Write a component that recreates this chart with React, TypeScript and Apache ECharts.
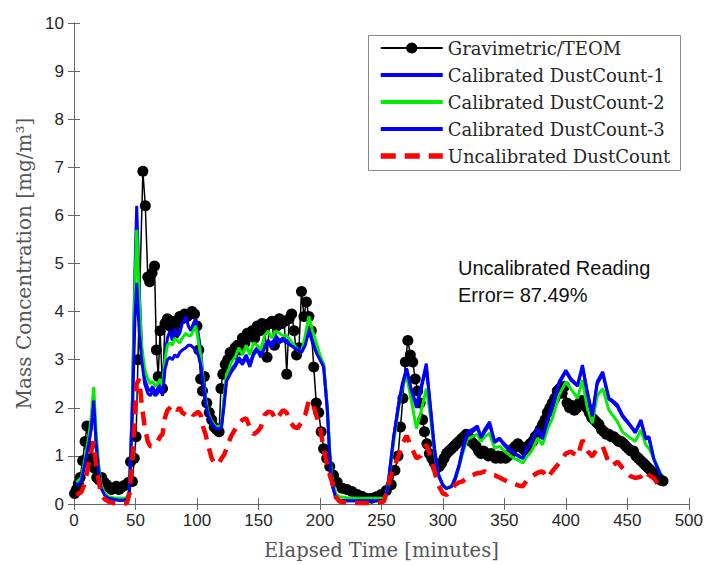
import React, { useEffect, useRef } from "react";
import * as echarts from "echarts";

// Gravimetric/TEOM reference measurements [minute, mg/m3]
const GRAV: [number, number][] = [
  [0.5, 0.22], [2, 0.3], [3.5, 0.42], [5, 0.55], [7, 0.9], [9, 1.3], [10.5, 1.62], [12.5, 1.2], [14.5, 0.95],
  [16.5, 0.75], [18.5, 0.55], [20.5, 0.5], [22.5, 0.55], [24.5, 0.45], [26.5, 0.4], [28.5, 0.35], [30.5, 0.3],
  [32.5, 0.33], [34.5, 0.37], [36.5, 0.3], [38.5, 0.35], [40.5, 0.38], [42.5, 0.4], [44.5, 0.45], [46, 0.88],
  [47.5, 0.47], [49, 0.95], [50.5, 1.4], [52, 3.0], [56, 6.92], [58, 6.2], [60, 4.72], [61.5, 4.62], [63.5, 4.8],
  [65.5, 4.95], [67, 3.2], [68.5, 2.65], [70, 3.6], [72, 2.4], [74, 3.75], [76, 3.85], [78, 3.7], [80, 3.8],
  [82, 3.55], [84, 3.75], [86, 3.9], [88, 3.85], [90, 3.95], [92, 3.9], [94, 3.95], [96, 4.0], [98, 3.95],
  [100, 3.7], [101.5, 3.2], [103, 2.6], [104.5, 2.35], [106, 2.65], [108, 2.1], [110, 1.9], [112, 1.75],
  [114, 1.6], [116, 1.55], [118, 1.5], [119.5, 2.4], [121, 2.7], [123, 2.9], [125, 3.0], [127, 3.15], [129, 3.1],
  [131, 3.25], [133, 3.3], [135, 3.2], [137, 3.45], [139, 3.35], [141, 3.55], [143, 3.5], [145, 3.6], [147, 3.45],
  [149, 3.7], [151, 3.6], [153, 3.75], [155, 3.65], [157, 3.05], [159, 3.75], [161, 3.8], [163, 3.3], [165, 3.7],
  [167, 3.85], [169, 3.75], [171, 3.8], [173, 2.7], [175, 3.85], [177, 3.95], [179, 3.6], [181, 3.1], [183, 3.25],
  [185, 4.42], [187, 3.9], [189, 4.2], [191, 3.9], [193, 3.6], [195, 2.85], [197, 2.1], [199, 1.9], [201, 1.5],
  [203, 1.15], [205.5, 0.95], [208, 0.78], [211, 0.6], [214, 0.45], [218, 0.33], [222, 0.3], [226, 0.26],
  [230, 0.2], [234, 0.16], [238, 0.12], [242, 0.12], [246, 0.15], [250, 0.2], [254, 0.28], [258, 0.4], [261, 0.7],
  [263.5, 1.0], [265.5, 1.6], [267.5, 2.2], [269.5, 2.95], [271.5, 3.4], [273.5, 3.1], [275.5, 2.95], [277.5, 2.6],
  [279.5, 2.35], [281.5, 2.1], [283.5, 1.75], [285, 1.5], [287, 1.25], [289, 1.05], [291, 0.95], [293, 0.85],
  [295, 0.75], [297, 0.78], [299, 0.85], [301, 0.95], [303, 1.05], [305, 1.1], [307, 1.15], [309, 1.2], [311, 1.25],
  [313, 1.3], [315, 1.35], [317, 1.4], [319, 1.45], [321, 1.4], [323, 1.3], [325, 1.25], [327, 1.2], [329, 1.1],
  [331, 1.05], [333, 1.1], [335, 1.05], [337, 1.0], [339, 1.05], [341, 1.0], [343, 0.95], [345, 1.0], [347, 0.95],
  [349, 1.0], [351, 0.95], [353, 1.0], [355, 1.05], [357, 1.15], [359, 1.2], [361, 1.25], [363, 1.2], [365, 1.15],
  [367, 1.1], [369, 1.2], [371, 1.25], [373, 1.3], [375, 1.4], [377, 1.45], [379, 1.55], [381, 1.65], [383, 1.75],
  [385, 1.9], [387, 2.0], [389, 2.1], [391, 2.2], [393, 2.35], [395, 2.4], [397, 2.3], [399, 2.45], [401, 2.1],
  [403, 2.0], [405, 2.05], [407, 1.95], [409, 2.0], [411, 2.1], [413, 2.15], [415, 2.1], [417, 2.0], [419, 1.9],
  [421, 1.8], [423, 1.75], [425, 1.7], [427, 1.65], [429, 1.55], [431, 1.5], [433, 1.45], [435, 1.45], [437, 1.4],
  [439, 1.4], [441, 1.35], [443, 1.3], [445, 1.3], [447, 1.25], [449, 1.2], [451, 1.15], [453, 1.1], [455, 1.1],
  [457, 1.0], [459, 0.95], [461, 0.9], [463, 0.85], [465, 0.8], [467, 0.75], [469, 0.7], [471, 0.65], [473, 0.6],
  [475, 0.55], [477, 0.5], [479, 0.48],
];

// Time grid (minutes) shared by the DustCount traces
const CAL_T = [
  2, 4, 6, 9, 12, 14, 16, 18, 20, 22, 25, 28, 32, 36, 40, 43, 45, 47.5, 49.5, 51, 53, 55, 57.5, 60, 62, 64, 66, 68,
  70, 72, 74, 76, 78, 80, 82, 84, 86, 88, 91, 93, 95, 97, 99, 101, 103, 105, 107, 109, 112, 115, 118, 120, 122, 124,
  126, 128, 131, 134, 137, 140, 143, 146, 149, 152, 155, 158, 161, 164, 167, 170, 173, 176, 179, 182, 185, 188, 191,
  194, 197, 200, 203, 206, 208, 210, 213, 216, 222, 230, 240, 248, 252, 255, 257, 260, 264, 267, 270.5, 274, 278.5,
  282, 286.5, 290, 293, 296, 300, 303, 307, 310, 313, 316, 320, 324, 328, 331, 334, 338, 342, 346, 350, 354, 358,
  362, 365, 368, 372, 377, 381, 385, 389, 394.5, 400, 404, 409.5, 413.5, 417.5, 421.5, 425.5, 430, 435, 438, 442,
  446, 452.5, 456.5, 461, 465, 467.5, 471.5, 477,
];

const DC1 = [
  0.4, 0.45, 0.5, 0.9, 1.3, 1.6, 2.2, 1.3, 0.75, 0.35, 0.2, 0.12, 0.1, 0.08, 0.08, 0.1, 0.25, 2.2, 4.8, 6.2, 4.5, 3.2,
  2.6, 2.4, 2.35, 2.45, 2.3, 2.4, 2.55, 2.3, 3.1, 3.45, 3.6, 3.4, 3.65, 3.5, 3.55, 3.75, 3.9, 3.7, 3.6, 3.75, 3.85,
  3.55, 3.2, 2.6, 2.1, 1.85, 1.7, 1.6, 1.58, 1.62, 2.1, 2.6, 2.7, 2.8, 2.9, 3.05, 2.95, 3.1, 2.9, 3.15, 3.25, 3.1,
  3.3, 3.4, 3.3, 3.5, 3.4, 3.45, 3.4, 3.35, 3.3, 3.25, 3.2, 3.35, 3.65, 3.4, 3.2, 3.05, 2.9, 2.0, 1.0, 0.4, 0.12, 0.08,
  0.07, 0.07, 0.07, 0.07, 0.08, 0.3, 0.75, 1.4, 2.1, 2.5, 2.82, 2.4, 2.06, 2.4, 2.92, 2.0, 1.2, 0.65, 0.4, 0.33, 0.37,
  0.55, 0.8, 1.15, 1.5, 1.55, 1.62, 1.4, 1.55, 1.71, 1.3, 1.37, 1.25, 1.15, 1.06, 1.0, 0.95, 1.15, 1.3, 1.57, 1.37,
  1.75, 2.06, 2.54, 2.78, 2.61, 2.47, 2.89, 2.33, 1.85, 2.54, 2.75, 2.2, 2.15, 2.06, 1.85, 1.64, 1.5, 1.75, 1.37, 1.4,
  0.95, 0.61,
];

const DC2 = [
  0.45, 0.5, 0.55, 0.95, 1.4, 1.8, 2.43, 1.5, 0.85, 0.4, 0.22, 0.15, 0.13, 0.12, 0.12, 0.13, 0.3, 2.0, 4.5, 5.7, 4.3,
  3.3, 2.8, 2.6, 2.5, 2.55, 2.45, 2.5, 2.6, 2.45, 3.0, 3.3, 3.35, 3.3, 3.45, 3.4, 3.35, 3.45, 3.55, 3.5, 3.5, 3.6, 3.7,
  3.4, 3.1, 2.6, 2.2, 1.9, 1.72, 1.62, 1.6, 1.65, 2.2, 2.7, 2.8, 2.95, 3.05, 3.25, 3.1, 3.3, 3.1, 3.35, 3.3, 3.2, 3.5,
  3.6, 3.45, 3.6, 3.55, 3.5, 3.5, 3.4, 3.3, 3.2, 3.15, 3.5, 3.9, 3.6, 3.35, 3.1, 2.9, 2.0, 1.1, 0.5, 0.2, 0.15, 0.13,
  0.12, 0.12, 0.12, 0.12, 0.3, 0.7, 1.3, 2.0, 2.4, 2.68, 2.2, 1.57, 1.9, 2.4, 1.8, 1.1, 0.6, 0.38, 0.33, 0.37, 0.5,
  0.75, 1.05, 1.35, 1.4, 1.45, 1.3, 1.4, 1.47, 1.16, 1.2, 1.1, 1.02, 0.95, 0.9, 0.85, 0.98, 1.09, 1.37, 1.23, 1.55,
  1.78, 2.26, 2.54, 2.4, 2.2, 2.57, 1.99, 1.68, 2.25, 2.4, 1.95, 1.85, 1.71, 1.5, 1.37, 1.3, 1.54, 1.23, 1.16, 0.95,
  0.64,
];

const DC3 = [
  0.38, 0.42, 0.48, 0.85, 1.25, 1.55, 2.15, 1.25, 0.7, 0.33, 0.18, 0.12, 0.1, 0.08, 0.08, 0.1, 0.25, 1.9, 3.8, 4.6,
  3.6, 3.0, 2.5, 2.3, 2.25, 2.35, 2.25, 2.3, 2.45, 2.25, 2.8, 3.0, 3.05, 3.0, 3.1, 3.05, 3.15, 3.2, 3.25, 3.3, 3.3,
  3.25, 3.2, 3.1, 2.9, 2.5, 2.1, 1.85, 1.68, 1.58, 1.55, 1.6, 2.05, 2.55, 2.65, 2.75, 2.85, 3.0, 2.9, 3.05, 2.85, 3.1,
  3.2, 3.05, 3.25, 3.35, 3.25, 3.45, 3.35, 3.4, 3.35, 3.3, 3.25, 3.2, 3.15, 3.3, 3.6, 3.35, 3.15, 3.0, 2.85, 1.95, 1.0,
  0.4, 0.12, 0.08, 0.07, 0.07, 0.07, 0.07, 0.08, 0.3, 0.75, 1.4, 2.05, 2.45, 2.8, 2.4, 2.0, 2.35, 2.85, 1.95, 1.15,
  0.62, 0.38, 0.32, 0.36, 0.52, 0.78, 1.1, 1.45, 1.5, 1.58, 1.38, 1.5, 1.65, 1.28, 1.35, 1.22, 1.12, 1.05, 0.98, 0.95,
  1.12, 1.28, 1.55, 1.35, 1.72, 2.0, 2.5, 2.75, 2.58, 2.45, 2.85, 2.3, 1.82, 2.5, 2.7, 2.18, 2.12, 2.02, 1.82, 1.62,
  1.48, 1.72, 1.35, 1.38, 0.93, 0.6,
];

const UNC = [
  0.18, 0.22, 0.25, 0.45, 0.85, 1.1, 1.3, 0.8, 0.5, 0.2, 0.1, 0.05, 0.02, 0.0, 0.0, 0.02, 0.2, 0.9, 1.8, 2.5, 2.6,
  2.1, 1.6, 1.3, 1.2, 1.2, 1.25, 1.3, 1.4, 1.45, 1.8, 1.95, 2.0, 2.06, 2.0, 1.95, 2.0, 1.9, 1.85, 1.92, 1.9, 1.85,
  1.88, 1.92, 1.85, 1.6, 1.45, 1.23, 0.95, 0.82, 0.85, 0.95, 1.02, 1.15, 1.3, 1.42, 1.55, 1.68, 1.75, 1.78, 1.6, 1.45,
  1.5, 1.6, 1.85, 1.92, 1.9, 1.75, 1.85, 1.95, 1.9, 1.7, 1.6, 1.58, 1.7, 1.85, 2.15, 2.1, 1.85, 1.6, 1.15, 0.8, 0.6,
  0.45, 0.15, 0.05, 0.03, 0.02, 0.02, 0.03, 0.05, 0.3, 0.55, 0.75, 1.0, 1.25, 1.42, 1.2, 0.95, 1.0, 1.23, 1.0, 0.7,
  0.4, 0.22, 0.19, 0.3, 0.4, 0.45, 0.47, 0.55, 0.6, 0.64, 0.65, 0.68, 0.62, 0.6, 0.55, 0.5, 0.45, 0.42, 0.38, 0.37,
  0.48, 0.57, 0.65, 0.68, 0.54, 0.68, 0.85, 1.05, 1.09, 0.99, 1.33, 1.1, 0.99, 1.15, 1.2, 0.85, 0.8, 0.88, 0.75, 0.58,
  0.54, 0.57, 0.68, 0.6, 0.54, 0.33,
];

const X_TICKS = { min: 0, max: 500, interval: 50 };
const Y_TICKS = { min: 0, max: 10, interval: 1 };

const NAMES = [
  "Gravimetric/TEOM",
  "Calibrated DustCount-1",
  "Calibrated DustCount-2",
  "Calibrated DustCount-3",
  "Uncalibrated DustCount",
];
const ANNOTATION = ["Uncalibrated Reading", "Error= 87.49%"];

const SERIF = "'DejaVu Serif', 'Liberation Serif', serif";
const SANS = "'Liberation Sans', Arial, sans-serif";

const pair = (vals: number[]) => CAL_T.map((t, i) => [t, vals[i]]);

export default function App() {
  const ref = useRef<HTMLDivElement>(null);
  useEffect(() => {
    document.body.style.margin = "0";
    const chart = echarts.init(ref.current!, null, { renderer: "svg" });
    const axisColor = "#666";
    const labelStyle = { color: "#262626", fontFamily: SANS, fontSize: 17 };
    chart.setOption({
      animation: false,
      backgroundColor: "#fff",
      grid: { left: 74, right: 14, top: 23, bottom: 59 },
      xAxis: [
        {
          type: "value",
          ...X_TICKS,
          position: "bottom",
          axisLine: { show: true, lineStyle: { color: axisColor, width: 1 } },
          axisTick: { show: true, inside: true, length: 6, lineStyle: { color: axisColor } },
          axisLabel: { ...labelStyle, margin: 8 },
          splitLine: { show: false },
          name: "Elapsed Time [minutes]",
          nameLocation: "middle",
          nameGap: 36,
          nameTextStyle: { color: "#555", fontFamily: SERIF, fontSize: 19.5 },
        },
        {
          type: "value",
          ...X_TICKS,
          position: "top",
          axisLine: { show: true, lineStyle: { color: axisColor, width: 1 } },
          axisTick: { show: true, inside: true, length: 6, lineStyle: { color: axisColor } },
          axisLabel: { show: false },
          splitLine: { show: false },
        },
      ],
      yAxis: [
        {
          type: "value",
          ...Y_TICKS,
          position: "left",
          axisLine: { show: true, lineStyle: { color: axisColor, width: 1 } },
          axisTick: { show: true, inside: true, length: 6, lineStyle: { color: axisColor } },
          axisLabel: { ...labelStyle, margin: 10 },
          splitLine: { show: false },
          name: "Mass Concentration [mg/m³]",
          nameLocation: "middle",
          nameGap: 38,
          nameTextStyle: { color: "#555", fontFamily: SERIF, fontSize: 20 },
        },
        {
          type: "value",
          ...Y_TICKS,
          position: "right",
          axisLine: { show: true, lineStyle: { color: axisColor, width: 1 } },
          axisTick: { show: true, inside: true, length: 6, lineStyle: { color: axisColor } },
          axisLabel: { show: false },
          splitLine: { show: false },
        },
      ],
      legend: {
        orient: "vertical",
        left: 378,
        top: 38,
        padding: 0,
        itemWidth: 62,
        itemHeight: 14,
        itemGap: 7,
        textStyle: { color: "#262626", fontFamily: SERIF, fontSize: 18, lineHeight: 20 },
        data: [
          { name: NAMES[0], lineStyle: { width: 2 } },
          { name: NAMES[1], itemStyle: { opacity: 0 }, lineStyle: { width: 4 } },
          { name: NAMES[2], itemStyle: { opacity: 0 }, lineStyle: { width: 4 } },
          { name: NAMES[3], itemStyle: { opacity: 0 }, lineStyle: { width: 4 } },
          { name: NAMES[4], itemStyle: { opacity: 0 }, lineStyle: { width: 5.5, type: [15, 9] } },
        ],
      },
      graphic: [
        {
          type: "rect",
          left: 368,
          top: 35,
          z: 0,
          shape: { width: 312, height: 135 },
          style: { fill: "#fff", stroke: "#888", lineWidth: 1 },
        },
        {
          type: "text",
          left: 458,
          top: 258,
          style: { text: ANNOTATION[0], fill: "#111", font: `20px ${SANS}` },
        },
        {
          type: "text",
          left: 458,
          top: 285,
          style: { text: ANNOTATION[1], fill: "#111", font: `20px ${SANS}` },
        },
      ],
      series: [
        {
          name: NAMES[0],
          type: "line",
          data: GRAV,
          symbol: "circle",
          symbolSize: 11,
          showSymbol: true,
          itemStyle: { color: "#000" },
          lineStyle: { color: "#000", width: 1.5 },
          z: 2,
        },
        {
          name: NAMES[1],
          type: "line",
          data: pair(DC1),
          symbol: "none",
          itemStyle: { color: "#0000ff" },
          lineStyle: { color: "#0000ff", width: 3 },
          z: 3,
        },
        {
          name: NAMES[2],
          type: "line",
          data: pair(DC2),
          symbol: "none",
          itemStyle: { color: "#00ee00" },
          lineStyle: { color: "#00ee00", width: 3 },
          z: 4,
        },
        {
          name: NAMES[3],
          type: "line",
          data: pair(DC3),
          symbol: "none",
          itemStyle: { color: "#0000ff" },
          lineStyle: { color: "#0000ff", width: 3 },
          z: 5,
        },
        {
          name: NAMES[4],
          type: "line",
          data: pair(UNC),
          symbol: "none",
          itemStyle: { color: "#ff0000" },
          lineStyle: { color: "#ff0000", width: 4.5, type: [14, 9] },
          z: 6,
        },
      ],
    });
    return () => chart.dispose();
  }, []);
  return <div ref={ref} style={{ position: "fixed", left: 0, top: 0, width: 706, height: 565 }} />;
}
